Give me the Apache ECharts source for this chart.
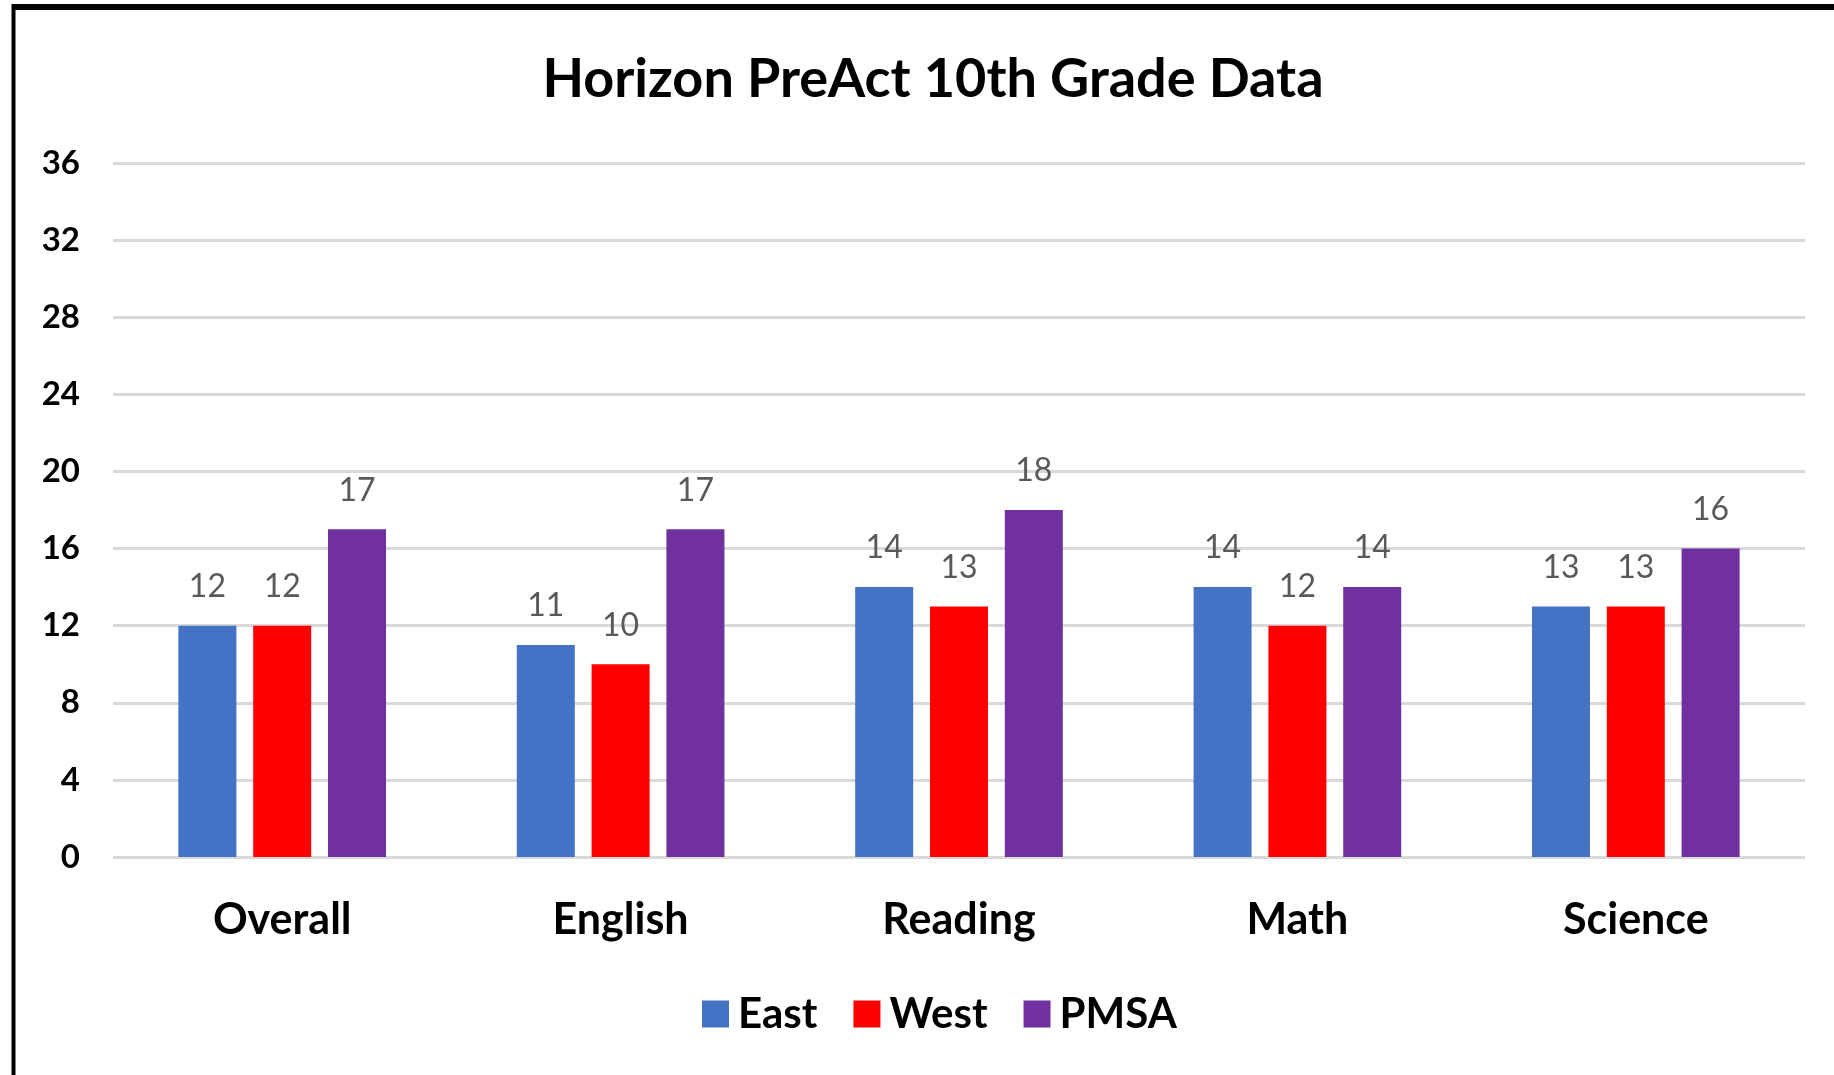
<!DOCTYPE html>
<html>
<head>
<meta charset="utf-8">
<script src="https://cdn.jsdelivr.net/npm/echarts@6/dist/echarts.min.js"></script>
<style>
	html, body { margin: 0; padding: 0; background: #fff; }
	#chart { width: 1834px; height: 1075px; }
</style>
</head>
<body>
<div id="chart"></div>
<script>
	// 数据
	var categories = ['Overall', 'English', 'Reading', 'Math', 'Science'];
	var eastData = [12, 11, 14, 14, 13];
	var westData = [12, 10, 13, 12, 13];
	var pmsaData = [17, 17, 18, 14, 16];
	var yTicks = [0, 4, 8, 12, 16, 20, 24, 28, 32, 36];

	var font = 'Lato, "Open Sans", sans-serif';
	var chart = echarts.init(document.getElementById('chart'));

	function makeSeries(name, data, color) {
		return {
			name: name,
			type: 'bar',
			data: data,
			barWidth: 58,
			barGap: '29%',
			itemStyle: { color: color },
			label: {
				show: true,
				position: 'top',
				distance: 23,
				color: '#595959',
				fontFamily: font,
				fontSize: 32
			}
		};
	}

	var option = {
		animation: false,
		title: {
			text: 'Horizon PreAct 10th Grade Data',
			left: 928,
			top: 48,
			textAlign: 'center',
			textStyle: {
				fontFamily: font,
				fontWeight: 'bold',
				fontSize: 54,
				color: '#000'
			}
		},
		graphic: [{
			type: 'line',
			shape: { x1: 13, y1: 7, x2: 1834, y2: 7 },
			style: { stroke: '#000', lineWidth: 6 }
		}, {
			type: 'line',
			shape: { x1: 13.5, y1: 4, x2: 13.5, y2: 1075 },
			style: { stroke: '#000', lineWidth: 4 }
		}],
		legend: {
			left: 697,
			top: 988,
			itemWidth: 27,
			itemHeight: 27,
			itemGap: 36,
			icon: 'rect',
			textStyle: {
				fontFamily: font,
				fontWeight: 'bold',
				fontSize: 42,
				color: '#000',
				padding: [0, 0, 0, 4]
			},
			data: ['East', 'West', 'PMSA']
		},
		grid: {
			left: 113,
			right: 29,
			top: 163,
			bottom: 218,
			containLabel: false
		},
		xAxis: {
			type: 'category',
			data: categories,
			axisLine: { show: false },
			axisTick: { show: false },
			axisLabel: {
				margin: 42,
				fontFamily: font,
				fontWeight: 'bold',
				fontSize: 43,
				color: '#000'
			}
		},
		yAxis: {
			type: 'value',
			min: yTicks[0],
			max: yTicks[yTicks.length - 1],
			interval: 4,
			axisLine: { show: false },
			axisTick: { show: false },
			splitLine: { lineStyle: { color: '#d9d9d9', width: 3 } },
			axisLabel: {
				margin: 33,
				fontFamily: font,
				fontWeight: 'bold',
				fontSize: 33,
				color: '#000'
			}
		},
		series: [
			makeSeries('East', eastData, '#4472C4'),
			makeSeries('West', westData, '#FF0000'),
			makeSeries('PMSA', pmsaData, '#7030A0')
		]
	};
	chart.setOption(option);
</script>
</body>
</html>
